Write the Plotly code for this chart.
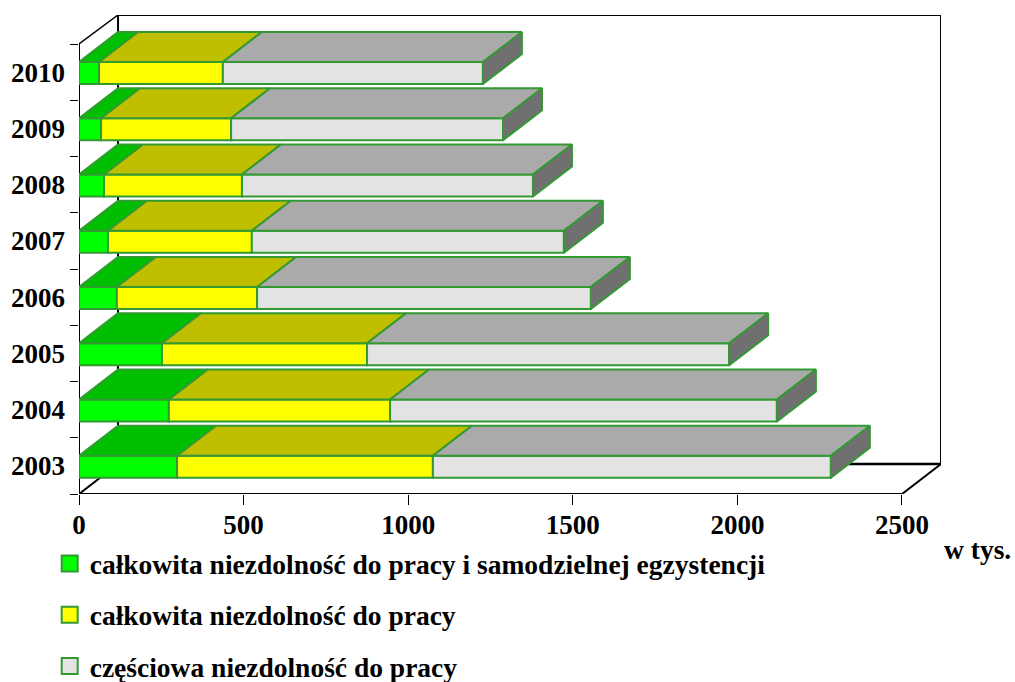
import plotly.graph_objects as go

years = ["2003", "2004", "2005", "2006", "2007", "2008", "2009", "2010"]
s_total_egz = [298, 273, 252, 115, 88, 76, 67, 61]
s_total = [777, 672, 623, 426, 437, 419, 395, 376]
s_partial = [1209, 1175, 1100, 1014, 948, 884, 826, 790]
series_names = [
    "całkowita niezdolność do pracy i samodzielnej egzystencji",
    "całkowita niezdolność do pracy",
    "częściowa niezdolność do pracy",
]
x_ticks = [0, 500, 1000, 1500, 2000, 2500]

FONT = "Liberation Serif"
EDGE = "#339933"
FRONT = ["#00FF00", "#FFFF00", "#E3E3E3"]
TOP = ["#00BF00", "#BFBF00", "#AAAAAA"]
SIDE = "#707070"
DX, DY = 118.5, 0.533   # depth of the oblique projection, in axis units
BAR_W = 0.39
XMAX, YMAX = 2618.5, 8.516
ypos = [i + 0.5 for i in range(len(years))]
barpos = [y - 0.015 for y in ypos]
series = [s_total_egz, s_total, s_partial]

fig = go.Figure()
base = [0] * len(years)
for k, vals in enumerate(series):
    fig.add_trace(go.Bar(y=barpos, x=vals, base=base, orientation="h", width=BAR_W,
                         marker=dict(color=FRONT[k], line=dict(color=EDGE, width=2)),
                         showlegend=False))
    xs, ys = [], []
    for b, v, y in zip(base, vals, barpos):
        t = y + BAR_W / 2
        xs += [b, b + v, b + v + DX, b + DX, b, None]
        ys += [t, t, t + DY, t + DY, t, None]
    fig.add_trace(go.Scatter(x=xs, y=ys, mode="lines", fill="toself", fillcolor=TOP[k],
                             line=dict(color=EDGE, width=2), showlegend=False,
                             hoverinfo="skip", cliponaxis=False))
    base = [b + v for b, v in zip(base, vals)]

xs, ys = [], []
for e, y in zip(base, barpos):
    t, u = y + BAR_W / 2, y - BAR_W / 2
    xs += [e, e + DX, e + DX, e, e, None]
    ys += [t, t + DY, u + DY, u, t, None]
fig.add_trace(go.Scatter(x=xs, y=ys, mode="lines", fill="toself", fillcolor=SIDE,
                         line=dict(color=EDGE, width=2), showlegend=False,
                         hoverinfo="skip", cliponaxis=False))

for k, name in enumerate(series_names):
    fig.add_trace(go.Scatter(x=[None], y=[None], mode="markers", name=name, legendgroup=str(k),
                             marker=dict(symbol="square", size=17, color=FRONT[k],
                                         line=dict(color=EDGE, width=2))))

n = len(years)
xe = x_ticks[-1]
walls = [
    (0, 0, 0, n, 2), (0, 0, xe, 0, 2),
    (DX, DY, DX, YMAX, 2), (DX, YMAX, XMAX, YMAX, 2), (XMAX, YMAX, XMAX, DY, 2),
    (DX, DY, XMAX, DY, 2.5), (0, 0, DX, DY, 2), (xe, 0, XMAX, DY, 2), (0, n, DX, YMAX, 1.5),
]
shapes = [dict(type="line", xref="x", yref="y", x0=a, y0=b, x1=c, y1=d, layer="below",
               line=dict(color="black", width=w)) for a, b, c, d, w in walls]

fig.update_layout(
    width=1015, height=682, autosize=False,
    margin=dict(l=79, r=74, t=15, b=188, autoexpand=False),
    plot_bgcolor="white", paper_bgcolor="white",
    barmode="overlay", shapes=shapes,
    font=dict(family=FONT, color="black"),
    xaxis=dict(range=[0, XMAX], tickvals=x_ticks, ticks="outside", ticklen=10, tickwidth=1,
               tickcolor="black", showgrid=False, zeroline=False, showline=False, automargin=False,
               ticklabelstandoff=-3,
               tickfont=dict(size=27, family=FONT, weight="bold")),
    yaxis=dict(range=[0, YMAX], tickvals=ypos, ticktext=years, ticks="", showgrid=False,
               zeroline=False, showline=False, ticklabelstandoff=13, automargin=False,
               tickfont=dict(size=27, family=FONT, weight="bold"),
               minor=dict(tickvals=list(range(n + 1)), ticks="outside", ticklen=8,
                          tickwidth=1, tickcolor="black", showgrid=False)),
    legend=dict(x=-0.0340, xanchor="left", y=-0.094, yanchor="top",
                traceorder="grouped", tracegroupgap=12.5, itemsizing="trace", itemwidth=30,
                bgcolor="rgba(0,0,0,0)", font=dict(size=27.5, family=FONT, weight="bold")),
    annotations=[dict(text="<b>w tys.</b>", xref="paper", yref="paper", x=(1013 - 79) / 862, xanchor="right",
                      y=1 - (549 - 15) / 479, yanchor="middle", showarrow=False,
                      font=dict(size=27.5, family=FONT))],
)
fig.write_html("out.html", post_script="document.body.style.margin='0';",
               config={"displayModeBar": False})
